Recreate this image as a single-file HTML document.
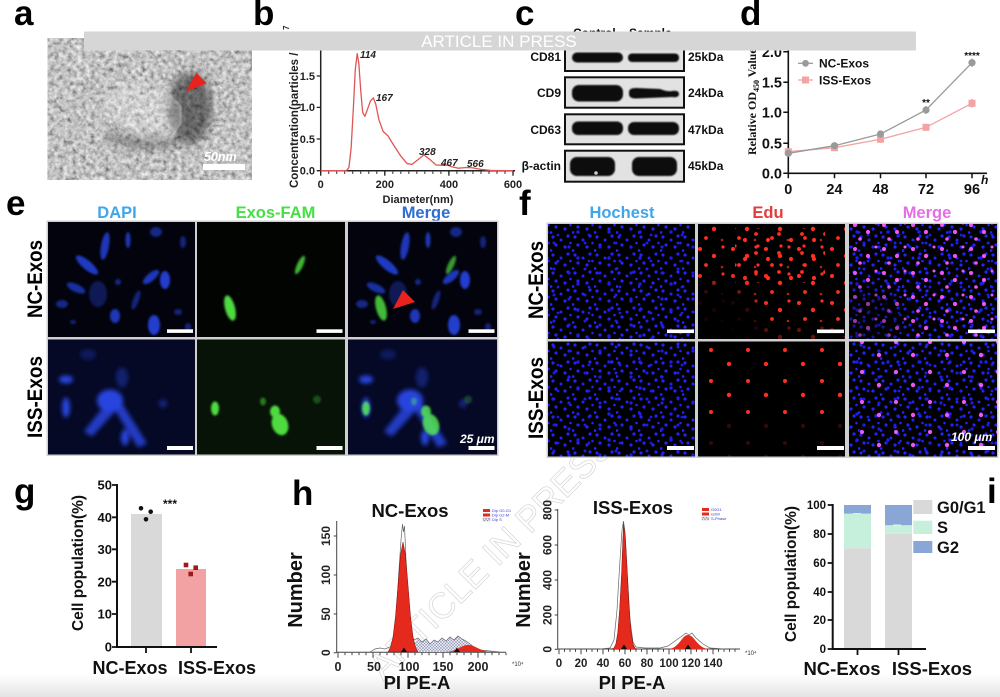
<!DOCTYPE html>
<html><head><meta charset="utf-8">
<style>
html,body{margin:0;padding:0;background:#fff;width:1000px;height:697px;overflow:hidden}
svg{display:block;overflow:hidden}
text{font-family:"Liberation Sans",Arial,sans-serif}
</style></head>
<body>
<svg width="1000" height="697" viewBox="0 0 1000 697" xmlns="http://www.w3.org/2000/svg" xmlns:xlink="http://www.w3.org/1999/xlink">
<defs>
  <linearGradient id="bot" x1="0" y1="0" x2="0" y2="1"><stop offset="0" stop-color="#fff"/><stop offset="1" stop-color="#e4e4e4"/></linearGradient>
  <filter id="tem" x="0" y="0" width="100%" height="100%">
    <feTurbulence type="fractalNoise" baseFrequency="0.22" numOctaves="3" seed="7"/>
    <feColorMatrix type="matrix" values="0.9 0.4 0 0 -0.12  0.9 0.4 0 0 -0.12  0.9 0.4 0 0 -0.12  0 0 0 0 1"/>
  </filter>
  <filter id="bl3" x="-50%" y="-50%" width="200%" height="200%"><feGaussianBlur stdDeviation="4"/></filter>
  <filter id="bl6" x="-50%" y="-50%" width="200%" height="200%"><feGaussianBlur stdDeviation="7"/></filter>
  <filter id="bl1" x="-50%" y="-50%" width="200%" height="200%"><feGaussianBlur stdDeviation="1.1"/></filter>
  <filter id="bl2" x="-50%" y="-50%" width="200%" height="200%"><feGaussianBlur stdDeviation="2.2"/></filter>
  <filter id="bl05" x="-20%" y="-50%" width="140%" height="200%"><feGaussianBlur stdDeviation="0.8"/></filter>
  <clipPath id="clipA"><rect x="47.5" y="38" width="204.5" height="142"/></clipPath>
  <clipPath id="cEduNC"><rect x="698" y="224" width="147" height="115"/></clipPath>
  <clipPath id="cMrgNC"><rect x="849" y="224" width="148" height="115"/></clipPath>

  <pattern id="pb1" x="0" y="0" width="22" height="18" patternUnits="userSpaceOnUse">
    <g fill="#2222ff"><circle cx="3" cy="3" r="1.6"/><circle cx="11" cy="6" r="1.5"/><circle cx="18" cy="2" r="1.6"/><circle cx="6" cy="11" r="1.6"/><circle cx="15" cy="13" r="1.6"/><circle cx="20.5" cy="9" r="1.3"/><circle cx="1" cy="16.5" r="1.4"/></g>
  </pattern>
  <pattern id="pb2" x="3" y="5" width="31" height="26" patternUnits="userSpaceOnUse">
    <g fill="#1c1ce8"><circle cx="8" cy="8" r="1.6"/><circle cx="24" cy="4" r="1.5"/><circle cx="17" cy="19" r="1.7"/><circle cx="28" cy="22" r="1.4"/></g>
  </pattern>
  <pattern id="pr1" x="2" y="1" width="33" height="27" patternUnits="userSpaceOnUse">
    <g fill="#ff2e1e"><circle cx="5" cy="5" r="2"/><circle cx="19" cy="12" r="2.2"/><circle cx="28" cy="3" r="1.6"/><circle cx="11" cy="21" r="1.9"/><circle cx="27" cy="23" r="1.3" opacity=".7"/></g>
  </pattern>
  <pattern id="pr2" x="5" y="3" width="23" height="19" patternUnits="userSpaceOnUse">
    <g fill="#ff2e1e"><circle cx="4" cy="9" r="2.1"/><circle cx="15" cy="3" r="1.9"/><circle cx="17" cy="15" r="1.6"/></g>
  </pattern>
  <pattern id="pr3" x="0" y="0" width="37" height="31" patternUnits="userSpaceOnUse">
    <g fill="#ff2e1e"><circle cx="8" cy="9" r="2"/><circle cx="26" cy="23" r="2.2"/></g>
  </pattern>
  <pattern id="pm1" x="9" y="4" width="29" height="24" patternUnits="userSpaceOnUse">
    <g fill="#f055f0"><circle cx="5" cy="5" r="2"/><circle cx="18" cy="12" r="2.1"/><circle cx="26" cy="3" r="1.5"/><circle cx="10" cy="19" r="1.8"/></g>
  </pattern>
  <pattern id="pm3" x="4" y="3" width="34" height="30" patternUnits="userSpaceOnUse">
    <g fill="#f055f0"><circle cx="8" cy="9" r="2.1"/><circle cx="25" cy="22" r="2.2"/></g>
  </pattern>
  <pattern id="hatch" width="3" height="3" patternUnits="userSpaceOnUse">
    <rect width="3" height="3" fill="#e4e6f0"/><path d="M0,3 L3,0 M0,0 L3,3" stroke="#8a8fb0" stroke-width="0.5"/>
  </pattern>
  <pattern id="tkb" x="320.2" y="0" width="8.0125" height="10" patternUnits="userSpaceOnUse"><rect width="1" height="10" fill="#333"/></pattern>
  <pattern id="tk7" x="337.5" y="0" width="7" height="10" patternUnits="userSpaceOnUse"><rect width="1" height="10" fill="#444"/></pattern>
  <pattern id="tk55" x="558.5" y="0" width="5.5" height="10" patternUnits="userSpaceOnUse"><rect width="1" height="10" fill="#444"/></pattern>

  <g id="dnc" fill="#2a4cff" filter="url(#bl1)">
    <ellipse cx="39" cy="43" rx="14" ry="4.5" transform="rotate(40 39 43)" opacity=".75"/>
    <ellipse cx="57" cy="24" rx="4" ry="14" transform="rotate(10 57 24)" opacity=".7"/>
    <ellipse cx="80" cy="18" rx="2.5" ry="8" opacity=".7"/>
    <ellipse cx="108" cy="10" rx="6" ry="5" opacity=".5"/>
    <ellipse cx="103" cy="55" rx="10" ry="4" transform="rotate(-40 103 55)" opacity=".7"/>
    <ellipse cx="117" cy="58" rx="5" ry="9" opacity=".8"/>
    <ellipse cx="67" cy="94" rx="5" ry="7" opacity=".7"/>
    <ellipse cx="106" cy="103" rx="6" ry="10" opacity=".8"/>
    <ellipse cx="28" cy="66" rx="10" ry="4" transform="rotate(25 28 66)" opacity=".6"/>
    <ellipse cx="50" cy="72" rx="9" ry="13" opacity=".3"/>
    <ellipse cx="14" cy="82" rx="6" ry="4" opacity=".5"/>
    <ellipse cx="88" cy="78" rx="3" ry="10" transform="rotate(20 88 78)" opacity=".45"/>
    <ellipse cx="130" cy="90" rx="4" ry="3" opacity=".45"/>
    <ellipse cx="70" cy="60" rx="3" ry="3" opacity=".5"/>
    <ellipse cx="135" cy="20" rx="3" ry="6" opacity=".45"/>
    <ellipse cx="25" cy="100" rx="3" ry="2" opacity=".45"/>
    <ellipse cx="140" cy="105" rx="3" ry="4" opacity=".45"/>
  </g>
  <g id="gnc" fill="#5cff4a" filter="url(#bl1)">
    <ellipse cx="33" cy="86" rx="5" ry="13" transform="rotate(-15 33 86)" opacity=".85"/>
    <ellipse cx="103" cy="43" rx="3" ry="10" transform="rotate(25 103 43)" opacity=".7"/>
  </g>
  <g id="diss" fill="#2f50ff" filter="url(#bl2)">
    <ellipse cx="62" cy="61" rx="13" ry="11"/>
    <ellipse cx="18" cy="68" rx="4" ry="10"/>
    <ellipse cx="18" cy="40" rx="7" ry="4"/>
    <path d="M58,64 L36,92 L44,97 L67,72 Z" opacity=".85"/>
    <path d="M64,66 L90,108 L99,104 L73,62 Z" opacity=".85"/>
    <ellipse cx="77" cy="98" rx="4" ry="8"/>
    <ellipse cx="115" cy="64" rx="4" ry="4" opacity=".5"/>
    <ellipse cx="74" cy="38" rx="6" ry="10" opacity=".4"/>
    <ellipse cx="40" cy="15" rx="8" ry="5" opacity=".3"/>
  </g>
  <g id="giss" fill="#5cff4a" filter="url(#bl1)">
    <ellipse cx="18" cy="69" rx="4" ry="7"/>
    <ellipse cx="83" cy="85" rx="8" ry="11" transform="rotate(-20 83 85)"/>
    <ellipse cx="78" cy="72" rx="5" ry="6"/>
    <ellipse cx="66" cy="62" rx="3" ry="4" opacity=".5"/>
    <ellipse cx="120" cy="60" rx="4" ry="4" opacity=".3"/>
  </g>
</defs>

<rect width="1000" height="697" fill="#fff"/>
<rect x="0" y="674" width="1000" height="23" fill="url(#bot)"/>

<!-- watermark -->
<text transform="translate(500,565) rotate(-45)" text-anchor="middle" font-size="36" fill="none" stroke="#dadada" stroke-width="0.8">ARTICLE IN PRESS</text>

<!-- panel letters -->
<g font-size="35" font-weight="bold" fill="#000">
  <text x="14" y="25">a</text><text x="253" y="25">b</text><text x="515" y="25">c</text><text x="740" y="25">d</text>
  <text x="6" y="215">e</text><text x="519" y="215">f</text>
  <text x="14" y="503">g</text><text x="292" y="505">h</text><text x="987" y="503">i</text>
</g>

<!-- panel a -->
<g clip-path="url(#clipA)">
  <rect x="47.5" y="38" width="204.5" height="142" filter="url(#tem)"/>
  <ellipse cx="190" cy="108" rx="22" ry="36" fill="#111" opacity=".5" filter="url(#bl3)"/>
  <ellipse cx="150" cy="142" rx="30" ry="8" fill="#111" opacity=".3" filter="url(#bl3)"/>
  <ellipse cx="115" cy="138" rx="10" ry="7" fill="#111" opacity=".25" filter="url(#bl3)"/>
  <path d="M106.7,96.7 L120.5,85 L144.6,83.3 L165.3,90 L180.8,106.7 L180.8,123.3 L172.2,136.7 L155,143.3 L137.7,136.7 L120.5,123.3 L103.3,113.3 Z" fill="#fff" opacity=".22" filter="url(#bl05)"/>
  <path d="M106.7,96.7 L120.5,85 L144.6,83.3 L165.3,90 L180.8,106.7 L180.8,123.3 L172.2,136.7 L155,143.3 L137.7,136.7 L120.5,123.3 L103.3,113.3 Z" fill="none" stroke="#d0d0d0" stroke-width="2" opacity=".45" filter="url(#bl05)"/>
  <ellipse cx="80" cy="60" rx="14" ry="9" fill="#fff" opacity=".12" filter="url(#bl3)"/>
  <ellipse cx="230" cy="150" rx="14" ry="9" fill="#fff" opacity=".12" filter="url(#bl3)"/>
  <polygon points="186,91.7 196.3,72.7 206.6,83.3" fill="#e8221c"/>
  <rect x="203" y="164" width="42" height="6" fill="#fff"/>
  <text x="204" y="161" font-size="12.5" font-weight="bold" font-style="italic" fill="#fff">50nm</text>
</g>

<!-- panel b -->
<g>
  <line x1="320.7" y1="40" x2="320.7" y2="171.5" stroke="#222" stroke-width="1.5"/>
  <line x1="320" y1="170.7" x2="515" y2="170.7" stroke="#222" stroke-width="1.5"/>
  <rect x="320" y="171" width="195" height="3" fill="url(#tkb)"/>
  <path d="M320.7,170.7v5 M384.8,170.7v5 M448.9,170.7v5 M513,170.7v5 M320.7,170.7h-4 M320.7,139h-4 M320.7,107.4h-4 M320.7,76h-4" stroke="#222" stroke-width="1.3"/>
  <g font-size="11" font-weight="bold" text-anchor="end" fill="#222">
    <text x="315" y="174.5">0.0</text><text x="315" y="142.8">0.5</text><text x="315" y="111.2">1.0</text><text x="315" y="79.8">1.5</text>
  </g>
  <g font-size="11" font-weight="bold" text-anchor="middle" fill="#222">
    <text x="320.7" y="188">0</text><text x="384.8" y="188">200</text><text x="448.9" y="188">400</text><text x="513" y="188">600</text>
    <text x="418" y="203">Diameter(nm)</text>
  </g>
  <text transform="translate(298,188) rotate(-90)" font-size="11.5" font-weight="bold" fill="#222">Concentration(particles / ml)</text>
  <text transform="translate(289,30) rotate(-90)" font-size="8" font-weight="bold" fill="#222">7</text>
  <polyline fill="none" stroke="#e05555" stroke-width="1.3" stroke-linejoin="round" points="320.7,170.7 346.3,170.7 348.9,167.5 351.1,148.5 353.4,107.4 355.3,69.4 357.2,53.6 358.8,63.1 360.8,91.6 362.7,112.5 364.9,116.3 367.5,109.3 370.4,101.1 373.3,97.9 375.8,104.2 379,120.1 383.2,131.5 388,135.9 393.8,145.4 400.8,156.1 407.2,163.7 412,164.4 418.5,159.3 423.9,154.9 429.7,159.3 436.1,165 442.5,165.3 447.3,165 452.1,166.9 458.5,168.2 466.5,167.5 472.9,167.9 480.9,169.4 490.6,170.4 513,170.7"/>
  <g font-size="10" font-weight="bold" font-style="italic" fill="#222">
    <text x="360" y="58">114</text><text x="376" y="101">167</text><text x="419" y="155">328</text><text x="441" y="166">467</text><text x="467" y="167">566</text>
  </g>
</g>

<!-- panel c -->
<g>
  <g font-size="12" font-weight="bold" fill="#111">
    <text x="573" y="37">Control</text><text x="629" y="37">Sample</text>
  </g>
  <g fill="#e2e2e2" stroke="#111" stroke-width="2">
    <rect x="565" y="41" width="119" height="30"/>
    <rect x="565" y="77.3" width="119" height="30.4"/>
    <rect x="565" y="114.3" width="119" height="30"/>
    <rect x="565" y="150.7" width="119" height="31"/>
  </g>
  <g fill="#0c0c0c" filter="url(#bl05)">
    <rect x="572" y="52.5" width="51" height="10" rx="5"/>
    <rect x="628" y="53.5" width="51" height="8.5" rx="4"/>
    <rect x="572" y="85" width="51" height="16.5" rx="7"/>
    <path d="M629,92 Q629,88 636,88 L660,89 Q668,92 672,91 Q679,90 679,94 Q679,98 672,97 L636,98.5 Q629,98.5 629,94 Z"/>
    <rect x="572" y="121.5" width="51" height="13.5" rx="6"/>
    <rect x="628" y="122" width="51" height="13" rx="6"/>
    <rect x="570" y="157" width="45" height="19" rx="7"/>
    <rect x="632" y="157" width="45" height="19" rx="7"/>
  </g>
  <circle cx="596" cy="173" r="1.8" fill="#ccc"/>
  <g font-size="12" font-weight="bold" fill="#111" text-anchor="end">
    <text x="561" y="61">CD81</text><text x="561" y="97">CD9</text><text x="561" y="134">CD63</text><text x="561" y="170">β-actin</text>
  </g>
  <g font-size="12" font-weight="bold" fill="#111">
    <text x="688" y="61">25kDa</text><text x="688" y="97">24kDa</text><text x="688" y="134">47kDa</text><text x="688" y="170">45kDa</text>
  </g>
</g>

<!-- panel d -->
<g>
  <line x1="788.3" y1="45" x2="788.3" y2="174" stroke="#111" stroke-width="1.6"/>
  <line x1="787.5" y1="173.3" x2="987" y2="173.3" stroke="#111" stroke-width="1.6"/>
  <path d="M788.3,51.7h-5 M788.3,82.3h-5 M788.3,112.3h-5 M788.3,143.3h-5 M788.3,173.3h-5 M788.3,173.3v5 M834.5,173.3v5 M880.5,173.3v5 M926,173.3v5 M972,173.3v5" stroke="#111" stroke-width="1.5"/>
  <g font-size="14.5" font-weight="bold" fill="#111" text-anchor="end">
    <text x="782" y="57">2.0</text><text x="782" y="87.5">1.5</text><text x="782" y="117.5">1.0</text><text x="782" y="148.5">0.5</text><text x="782" y="178.5">0.0</text>
  </g>
  <g font-size="14.5" font-weight="bold" fill="#111" text-anchor="middle">
    <text x="788.3" y="194">0</text><text x="834.5" y="194">24</text><text x="880.5" y="194">48</text><text x="926" y="194">72</text><text x="972" y="194">96</text>
  </g>
  <text x="981" y="184" font-size="12" font-style="italic" font-weight="bold" fill="#111">h</text>
  <text transform="translate(756,155) rotate(-90)" style="font-family:'Liberation Serif',serif" font-weight="bold" font-size="12" fill="#111">Relative OD<tspan font-size="8" dy="3">450</tspan><tspan dy="-3"> Value</tspan></text>
  <polyline fill="none" stroke="#f2a3a3" stroke-width="1.3" points="788.3,151.7 834.5,147.7 880.5,139.3 926,127.3 972,103.3"/>
  <polyline fill="none" stroke="#9a9a9a" stroke-width="1.3" points="788.3,153.3 834.5,145.7 880.5,134 926,110 972,62.7"/>
  <path d="M926,106v8 M972,58.5v8.5 M972,99v8.5" stroke="#888" stroke-width="1"/>
  <g fill="#f2a3a3">
    <rect x="784.8" y="148.2" width="7" height="7"/><rect x="831" y="144.2" width="7" height="7"/><rect x="877" y="135.8" width="7" height="7"/><rect x="922.5" y="123.8" width="7" height="7"/><rect x="968.5" y="99.8" width="7" height="7"/>
  </g>
  <g fill="#9a9a9a">
    <circle cx="788.3" cy="153.3" r="3.6"/><circle cx="834.5" cy="145.7" r="3.6"/><circle cx="880.5" cy="134" r="3.6"/><circle cx="926" cy="110" r="3.6"/><circle cx="972" cy="62.7" r="3.6"/>
  </g>
  <g font-size="10" font-weight="bold" fill="#111" text-anchor="middle">
    <text x="926" y="106">**</text><text x="972" y="59">****</text>
  </g>
  <line x1="798" y1="63.3" x2="813" y2="63.3" stroke="#9a9a9a" stroke-width="1.3"/><circle cx="805.5" cy="63.3" r="3.4" fill="#9a9a9a"/>
  <line x1="798" y1="80" x2="813" y2="80" stroke="#f2a3a3" stroke-width="1.3"/><rect x="802" y="76.5" width="7" height="7" fill="#f2a3a3"/>
  <g font-size="12" font-weight="bold" fill="#111">
    <text x="819" y="67.5">NC-Exos</text><text x="819" y="84.5">ISS-Exos</text>
  </g>
</g>

<!-- banner -->
<rect x="84" y="31.5" width="832" height="19" fill="#d6d6d6"/>
<text x="499" y="47" text-anchor="middle" font-size="17" fill="#fff">ARTICLE IN PRESS</text>

<!-- panel e -->
<g>
  <g font-size="16.5" font-weight="bold" text-anchor="middle">
    <text x="117" y="218" fill="#3fa6ea">DAPI</text>
    <text x="275.5" y="218" fill="#46e046">Exos-FAM</text>
    <text x="426" y="218" fill="#2e6ed2">Merge</text>
  </g>
  <rect x="46.5" y="220.5" width="452" height="235.5" fill="#cfcfcf"/>
  <rect x="48" y="222" width="147" height="115" fill="#02030c"/>
  <rect x="197" y="222" width="148" height="115" fill="#010401"/>
  <rect x="348" y="222" width="149" height="115" fill="#02030c"/>
  <rect x="48" y="339.5" width="147" height="115" fill="#050926"/>
  <rect x="197" y="339.5" width="148" height="115" fill="#061306"/>
  <rect x="348" y="339.5" width="149" height="115" fill="#050926"/>
  <use xlink:href="#dnc" x="48" y="222"/>
  <use xlink:href="#gnc" x="197" y="222"/>
  <use xlink:href="#dnc" x="348" y="222"/>
  <use xlink:href="#gnc" x="348" y="222" opacity=".85"/>
  <polygon points="393,309 403,290 415,302" fill="#e8221c"/>
  <use xlink:href="#diss" x="48" y="339.5" opacity=".85"/>
  <use xlink:href="#giss" x="197" y="339.5" opacity=".85"/>
  <use xlink:href="#diss" x="348" y="339.5" opacity=".85"/>
  <use xlink:href="#giss" x="348" y="339.5" opacity=".75"/>
  <g fill="#fff">
    <rect x="167" y="329.3" width="26" height="3.6"/><rect x="316.5" y="329.3" width="26" height="3.6"/><rect x="468.5" y="329.3" width="26" height="3.6"/>
    <rect x="167" y="446" width="26" height="4"/><rect x="316.5" y="446" width="26" height="4"/><rect x="468.5" y="446" width="26" height="4"/>
  </g>
  <text x="460" y="443" font-size="12" font-weight="bold" font-style="italic" fill="#fff">25 μm</text>
  <text transform="translate(42,279) rotate(-90)" text-anchor="middle" font-size="21" font-weight="bold" textLength="78" lengthAdjust="spacingAndGlyphs" fill="#000">NC-Exos</text>
  <text transform="translate(42,397) rotate(-90)" text-anchor="middle" font-size="21" font-weight="bold" textLength="82" lengthAdjust="spacingAndGlyphs" fill="#000">ISS-Exos</text>
</g>

<!-- panel f -->
<g>
  <g font-size="16.5" font-weight="bold" text-anchor="middle">
    <text x="622" y="218" fill="#3fa6ea">Hochest</text>
    <text x="768" y="218" fill="#e83a3a">Edu</text>
    <text x="927" y="218" fill="#e46ee8">Merge</text>
  </g>
  <rect x="546.5" y="222.5" width="452" height="235.5" fill="#cfcfcf"/>
  <rect x="548" y="224" width="147" height="115" fill="#000"/>
  <rect x="698" y="224" width="147" height="115" fill="#000"/>
  <rect x="849" y="224" width="148" height="115" fill="#000"/>
  <rect x="548" y="341.5" width="147" height="115" fill="#000"/>
  <rect x="698" y="341.5" width="147" height="115" fill="#000"/>
  <rect x="849" y="341.5" width="148" height="115" fill="#000"/>
  <rect x="548" y="224" width="147" height="115" fill="url(#pb1)"/>
  <rect x="548" y="224" width="147" height="115" fill="url(#pb2)"/>
  <rect x="849" y="224" width="148" height="115" fill="url(#pb1)"/>
  <rect x="849" y="224" width="148" height="115" fill="url(#pb2)"/>
  <rect x="548" y="341.5" width="147" height="115" fill="url(#pb1)"/>
  <rect x="548" y="341.5" width="147" height="115" fill="url(#pb2)"/>
  <rect x="849" y="341.5" width="148" height="115" fill="url(#pb1)"/>
  <rect x="849" y="341.5" width="148" height="115" fill="url(#pb2)"/>
  <g clip-path="url(#cEduNC)">
    <rect x="698" y="224" width="147" height="115" fill="url(#pr1)"/>
    <rect x="735" y="228" width="90" height="55" fill="url(#pr2)"/>
    <ellipse cx="715" cy="325" rx="45" ry="42" fill="#000" opacity=".9" filter="url(#bl6)"/>
    <rect x="698" y="322" width="147" height="17" fill="#000" opacity=".6"/>
  </g>
  <rect x="698" y="341.5" width="147" height="115" fill="url(#pr3)"/>
  <rect x="698" y="420" width="147" height="36.5" fill="#000" opacity=".8"/>
  <g clip-path="url(#cMrgNC)">
    <rect x="849" y="224" width="148" height="115" fill="url(#pm1)"/>
    <ellipse cx="866" cy="322" rx="40" ry="35" fill="#000" opacity=".35" filter="url(#bl6)"/>
  </g>
  <rect x="849" y="341.5" width="148" height="115" fill="url(#pm3)"/>
  <g fill="#fff">
    <rect x="667" y="329.5" width="27" height="3.6"/><rect x="817" y="329.5" width="27" height="3.6"/><rect x="968" y="329.5" width="27" height="3.6"/>
    <rect x="667" y="446" width="27" height="4"/><rect x="817" y="446" width="27" height="4"/><rect x="968" y="446" width="27" height="4"/>
  </g>
  <text x="951" y="441" font-size="12" font-weight="bold" font-style="italic" fill="#fff">100 μm</text>
  <text transform="translate(543,280) rotate(-90)" text-anchor="middle" font-size="21" font-weight="bold" textLength="78" lengthAdjust="spacingAndGlyphs" fill="#000">NC-Exos</text>
  <text transform="translate(543,398) rotate(-90)" text-anchor="middle" font-size="21" font-weight="bold" textLength="82" lengthAdjust="spacingAndGlyphs" fill="#000">ISS-Exos</text>
</g>

<!-- panel g -->
<g>
  <rect x="131" y="514" width="31" height="133" fill="#d9d9d9"/>
  <rect x="176" y="569" width="30" height="78" fill="#f2a2a2"/>
  <line x1="117" y1="484" x2="117" y2="648" stroke="#111" stroke-width="2"/>
  <line x1="116" y1="647" x2="217" y2="647" stroke="#111" stroke-width="2"/>
  <path d="M117,485h-5 M117,517.3h-5 M117,549.3h-5 M117,581.7h-5 M117,614h-5 M117,647h-5 M146,647v6 M191,647v6" stroke="#111" stroke-width="1.8"/>
  <g font-size="13" font-weight="bold" fill="#111" text-anchor="end">
    <text x="112" y="489.5">50</text><text x="112" y="522">40</text><text x="112" y="554">30</text><text x="112" y="586.5">20</text><text x="112" y="618.5">10</text><text x="112" y="651.5">0</text>
  </g>
  <g fill="#111"><circle cx="141" cy="508.3" r="2.3"/><circle cx="150.7" cy="511.7" r="2.3"/><circle cx="146" cy="519.3" r="2.3"/></g>
  <g fill="#a3161a"><rect x="183.7" y="562.7" width="4.6" height="4.6"/><rect x="193.4" y="565.4" width="4.6" height="4.6"/><rect x="188.4" y="571.7" width="4.6" height="4.6"/></g>
  <text x="170" y="508" font-size="12" font-weight="bold" text-anchor="middle" fill="#111">***</text>
  <text transform="translate(83,563) rotate(-90)" text-anchor="middle" font-size="15.5" font-weight="bold" fill="#111">Cell population(%)</text>
  <g font-size="18" font-weight="bold" fill="#111" text-anchor="middle">
    <text x="130" y="674">NC-Exos</text><text x="217" y="674">ISS-Exos</text>
  </g>
</g>

<!-- panel h left -->
<g>
  <line x1="336.7" y1="521" x2="336.7" y2="652.7" stroke="#444" stroke-width="1"/>
  <line x1="336.7" y1="652.2" x2="506" y2="652.2" stroke="#444" stroke-width="1"/>
  <rect x="337" y="652.7" width="170" height="2.5" fill="url(#tk7)"/>
  <path d="M338,652.7v5 M373,652.7v5 M408,652.7v5 M443,652.7v5 M478,652.7v5 M336.7,652.7h-3 M336.7,614h-3 M336.7,575h-3 M336.7,536h-3" stroke="#444" stroke-width="1"/>
  <g font-size="12" font-weight="bold" fill="#222" text-anchor="middle">
    <text transform="translate(330,652.7) rotate(-90)">0</text>
    <text transform="translate(330,614) rotate(-90)">50</text>
    <text transform="translate(330,575) rotate(-90)">100</text>
    <text transform="translate(330,536) rotate(-90)">150</text>
  </g>
  <g font-size="12.5" font-weight="bold" fill="#222" text-anchor="middle">
    <text x="338" y="671">0</text><text x="374" y="671">50</text><text x="409" y="671">100</text><text x="443" y="671">150</text><text x="478" y="671">200</text>
  </g>
  <text x="512" y="666" font-size="6" fill="#333">*10⁴</text>
  <path d="M393,652 L393,648 L398,645 L402,641 L406,646 L410,640 L414,643 L418,638 L422,642 L426,639 L430,644 L434,640 L438,642 L442,638 L446,641 L450,637 L454,640 L458,636 L462,639 L466,641 L470,644 L474,647 L478,650 L478,652 Z" fill="url(#hatch)"/>
  <polyline fill="none" stroke="#666" stroke-width="0.7" points="370,652 375,649 380,648 385,649 390,647 393,645 396,620 399,570 401,540 402.5,524 403.5,532 404.5,526 406,560 408,600 411,632 414,640 418,638 422,642 426,639 430,644 434,640 438,642 442,638 446,641 450,637 454,640 458,636 462,639 466,641 470,644 474,647 480,650 490,651 500,652"/>
  <polygon fill="#e42a1c" stroke="#7a1010" stroke-width="0.5" points="388,652 390.5,647.2 393,637.1 395.5,616.3 398,585.3 400.5,555 403,542 405.5,555 408,585.3 410.5,616.3 413,637.1 415.5,647.2 418,652"/>
  <path d="M444,652 C458,652 460,645 468,645 C476,645 480,652 493,652 Z" fill="#e42a1c"/>
  <polygon points="401,652 404,647.5 407,652" fill="#111"/><polygon points="454,652 457,647.5 460,652" fill="#111"/>
  <text x="410" y="517" text-anchor="middle" font-size="18.5" font-weight="bold" fill="#111">NC-Exos</text>
  <rect x="483" y="509" width="7" height="3" fill="#e42a1c"/><rect x="483" y="513.5" width="7" height="3" fill="#e42a1c"/><rect x="483" y="518" width="7" height="3" fill="url(#hatch)" stroke="#888" stroke-width=".3"/>
  <g font-size="4" fill="#3a3ad0"><text x="492" y="512">Dip G0-G1</text><text x="492" y="516.5">Dip G2-M</text><text x="492" y="521">Dip S</text></g>
  <text transform="translate(302,590) rotate(-90)" text-anchor="middle" font-size="20" font-weight="bold" fill="#111">Number</text>
  <text x="417" y="689" text-anchor="middle" font-size="18.5" font-weight="bold" fill="#111">PI PE-A</text>
</g>

<!-- panel h right -->
<g>
  <line x1="557.7" y1="509" x2="557.7" y2="649.3" stroke="#444" stroke-width="1"/>
  <line x1="557.7" y1="649" x2="740" y2="649" stroke="#444" stroke-width="1"/>
  <rect x="558" y="649.3" width="182" height="2.5" fill="url(#tk55)"/>
  <path d="M559,649.3v5 M581,649.3v5 M603,649.3v5 M625,649.3v5 M647,649.3v5 M669,649.3v5 M691,649.3v5 M713,649.3v5 M557.7,649.3h-3 M557.7,615h-3 M557.7,580h-3 M557.7,545h-3 M557.7,510h-3" stroke="#444" stroke-width="1"/>
  <g font-size="12" font-weight="bold" fill="#222" text-anchor="middle">
    <text transform="translate(551.5,649.3) rotate(-90)">0</text>
    <text transform="translate(551.5,615) rotate(-90)">200</text>
    <text transform="translate(551.5,580) rotate(-90)">400</text>
    <text transform="translate(551.5,545) rotate(-90)">600</text>
    <text transform="translate(551.5,510) rotate(-90)">800</text>
  </g>
  <g font-size="11.5" font-weight="bold" fill="#222" text-anchor="middle">
    <text x="559" y="667">0</text><text x="581" y="667">20</text><text x="603" y="667">40</text><text x="625" y="667">60</text><text x="647" y="667">80</text><text x="669" y="667">100</text><text x="691" y="667">120</text><text x="713" y="667">140</text>
  </g>
  <text x="745" y="655" font-size="6" fill="#333">*10⁴</text>
  <polyline fill="none" stroke="#666" stroke-width="0.7" points="600,649 610,648 614,640 617,610 620,560 622,530 623.5,521 625,532 627,570 630,620 633,642 636,647 645,648 660,648 668,646 675,641 682,636 686,633 689,635 692,633 696,638 703,644 710,648 725,649"/>
  <polygon fill="#e42a1c" stroke="#7a1010" stroke-width="0.5" points="611,649.3 614,647.9 615.9,643.8 617.8,632.3 619.7,608.4 621.6,572.9 623.5,523.5 625.4,538.1 627.3,572.9 629.2,608.4 631.1,632.3 633,643.8 634.9,647.9 637,649.3"/>
  <path d="M666,649.3 C680,649.3 681,635 688,635 C695,635 697,649.3 711,649.3 Z" fill="#e42a1c"/>
  <polygon points="621,649 624,644.5 627,649" fill="#111"/><polygon points="685,649 688,644.5 691,649" fill="#111"/>
  <text x="633" y="514" text-anchor="middle" font-size="18.5" font-weight="bold" fill="#111">ISS-Exos</text>
  <rect x="702" y="508" width="7" height="3" fill="#e42a1c"/><rect x="702" y="512.5" width="7" height="3" fill="#e42a1c"/><rect x="702" y="517" width="7" height="3" fill="url(#hatch)" stroke="#888" stroke-width=".3"/>
  <g font-size="4" fill="#3a3ad0"><text x="711" y="511">G0G1</text><text x="711" y="515.5">G2M</text><text x="711" y="520">S-Phase</text></g>
  <text transform="translate(530,590) rotate(-90)" text-anchor="middle" font-size="20" font-weight="bold" fill="#111">Number</text>
  <text x="632" y="689" text-anchor="middle" font-size="18.5" font-weight="bold" fill="#111">PI PE-A</text>
</g>

<!-- panel i -->
<g>
  <rect x="844" y="548.2" width="27" height="100.8" fill="#d9d9d9"/>
  <rect x="844" y="513.6" width="27" height="34.6" fill="#c6f0db"/>
  <rect x="844" y="505" width="27" height="8.6" fill="#8aa6d6"/>
  <rect x="885" y="533.8" width="27" height="115.2" fill="#d9d9d9"/>
  <rect x="885" y="525.2" width="27" height="8.6" fill="#c6f0db"/>
  <rect x="885" y="505" width="27" height="20.2" fill="#8aa6d6"/>
  <path d="M853,513.6h8 M893,525h8" stroke="#fff" stroke-width="0.8"/>
  <line x1="832.7" y1="504" x2="832.7" y2="650" stroke="#111" stroke-width="2"/>
  <line x1="832" y1="649" x2="926" y2="649" stroke="#111" stroke-width="2"/>
  <path d="M832.7,505h-5 M832.7,534h-5 M832.7,563h-5 M832.7,592h-5 M832.7,620h-5 M832.7,649h-5 M857.5,649v6 M898.5,649v6" stroke="#111" stroke-width="1.8"/>
  <g font-size="11.5" font-weight="bold" fill="#111" text-anchor="end">
    <text x="826" y="509">100</text><text x="826" y="538">80</text><text x="826" y="567">60</text><text x="826" y="596">40</text><text x="826" y="624">20</text><text x="826" y="653">0</text>
  </g>
  <text transform="translate(796,574) rotate(-90)" text-anchor="middle" font-size="15.5" font-weight="bold" fill="#111">Cell population(%)</text>
  <rect x="913.3" y="500" width="19" height="14" fill="#d9d9d9"/>
  <rect x="913.3" y="520.7" width="19" height="13.3" fill="#c6f0db"/>
  <rect x="913.3" y="541" width="19" height="12" fill="#8aa6d6"/>
  <g font-size="16.5" font-weight="bold" fill="#111">
    <text x="937" y="513">G0/G1</text><text x="937" y="533">S</text><text x="937" y="553">G2</text>
  </g>
  <g font-size="18.5" font-weight="bold" fill="#111" text-anchor="middle">
    <text x="842" y="675">NC-Exos</text><text x="932" y="675">ISS-Exos</text>
  </g>
</g>
</svg>
</body></html>
